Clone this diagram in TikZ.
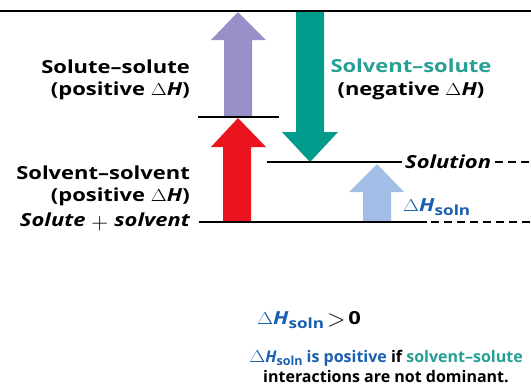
\documentclass[tikz,border=0pt]{standalone}
\usepackage{fontspec}
\setmainfont{Open Sans}
\newfontfamily\labfont{Open Sans}[FakeStretch=1.22]
\definecolor{purp}{RGB}{152,142,200}
\definecolor{tealA}{RGB}{0,155,138}
\definecolor{redA}{RGB}{235,20,30}
\definecolor{lblue}{RGB}{162,190,230}
\definecolor{tealtxt}{RGB}{38,160,148}
\definecolor{bluetxt}{RGB}{25,95,175}
\newcommand\dHx{\scalebox{1.2}[1]{$\Delta$}\textit{H}}
\newcommand\solnx{\raisebox{-0.35ex}{\fontsize{14}{14}\selectfont soln}}
\newcommand\solny{\raisebox{-0.35ex}{\fontsize{12.5}{12}\selectfont soln}}
\begin{document}
\begin{tikzpicture}[x=1pt,y=-1pt,
  lbl/.style={font=\labfont\fontsize{18}{20}\selectfont\bfseries, inner sep=0pt},
  ilbl/.style={font=\labfont\fontsize{18}{20}\selectfont\bfseries\itshape, inner sep=0pt},
  captext/.style={font=\fontsize{16}{20}\selectfont\bfseries, inner sep=0pt},
  level/.style={line width=1.8pt, black},
  dashlevel/.style={line width=1.8pt, black, dash pattern=on 8pt off 5pt}]
\useasboundingbox (0,0) rectangle (531,389);
\fill[white] (0,0) rectangle (531,389);
% top rule
\draw[line width=2pt] (0,11) -- (531,11);
% arrows
\fill[purp] (224,116) -- (224,40) -- (211,40) -- (238,12) -- (266,40) -- (252,40) -- (252,116) -- cycle;
\fill[redA] (223,221) -- (223,147) -- (211,147) -- (238,118) -- (266,147) -- (251,147) -- (251,221) -- cycle;
\fill[tealA] (296,12) -- (324,12) -- (324,132) -- (338,132) -- (310,162) -- (282,132) -- (296,132) -- cycle;
\fill[lblue] (363,221) -- (363,192) -- (349,192) -- (377,164) -- (404,192) -- (391,192) -- (391,221) -- cycle;
% levels
\draw[level] (198,117) -- (279,117);
\coordinate (s0) at (267,162);
\node[ilbl, anchor=west] (sol) at (405,162) {Solution};
\coordinate (s1) at (531,162);
\draw[level] (s0) -- ([xshift=-3pt]sol.west);
\draw[dashlevel] ([xshift=4pt]sol.east) -- (s1);
\node[ilbl, anchor=east] (ss) at (190,222) {Solute\,\,\raisebox{-0.3ex}{\scalebox{1.35}{$+$}}\,\,solvent};
\coordinate (b1) at (427,222);
\coordinate (b2) at (531,222);
\draw[level] ([xshift=9pt]ss.east) -- (b1);
\draw[dashlevel] (b1) ++(4,0) -- (b2);
% labels
\node[lbl, anchor=east] (l1) at (190,67) {Solute–solute};
\node[lbl, anchor=east] (l2) at (190,91) {(positive \dHx)};
\node[lbl, anchor=east] (l3) at (190,173) {Solvent–solvent};
\node[lbl, anchor=east] (l4) at (190,197) {(positive \dHx)};
\node[lbl, text=tealtxt] (r1) at (411,66) {Solvent–solute};
\node[lbl] (r2) at (411,91) {(negative \dHx)};
\node[lbl, anchor=west, text=bluetxt] (dh) at (403,207) {\dHx\solnx};
\node[lbl, text=bluetxt] (eq) at (309,320) {\dHx\solnx\,\textcolor{black}{\raisebox{-0.2ex}{\scalebox{1.4}{$>$}}\,0}};
\node[captext, align=center] (c1) at (386,366) {\textcolor{bluetxt}{\dHx\solny\ is positive} if \textcolor{tealtxt}{solvent–solute}\\ interactions are not dominant.};
\end{tikzpicture}
\end{document}
